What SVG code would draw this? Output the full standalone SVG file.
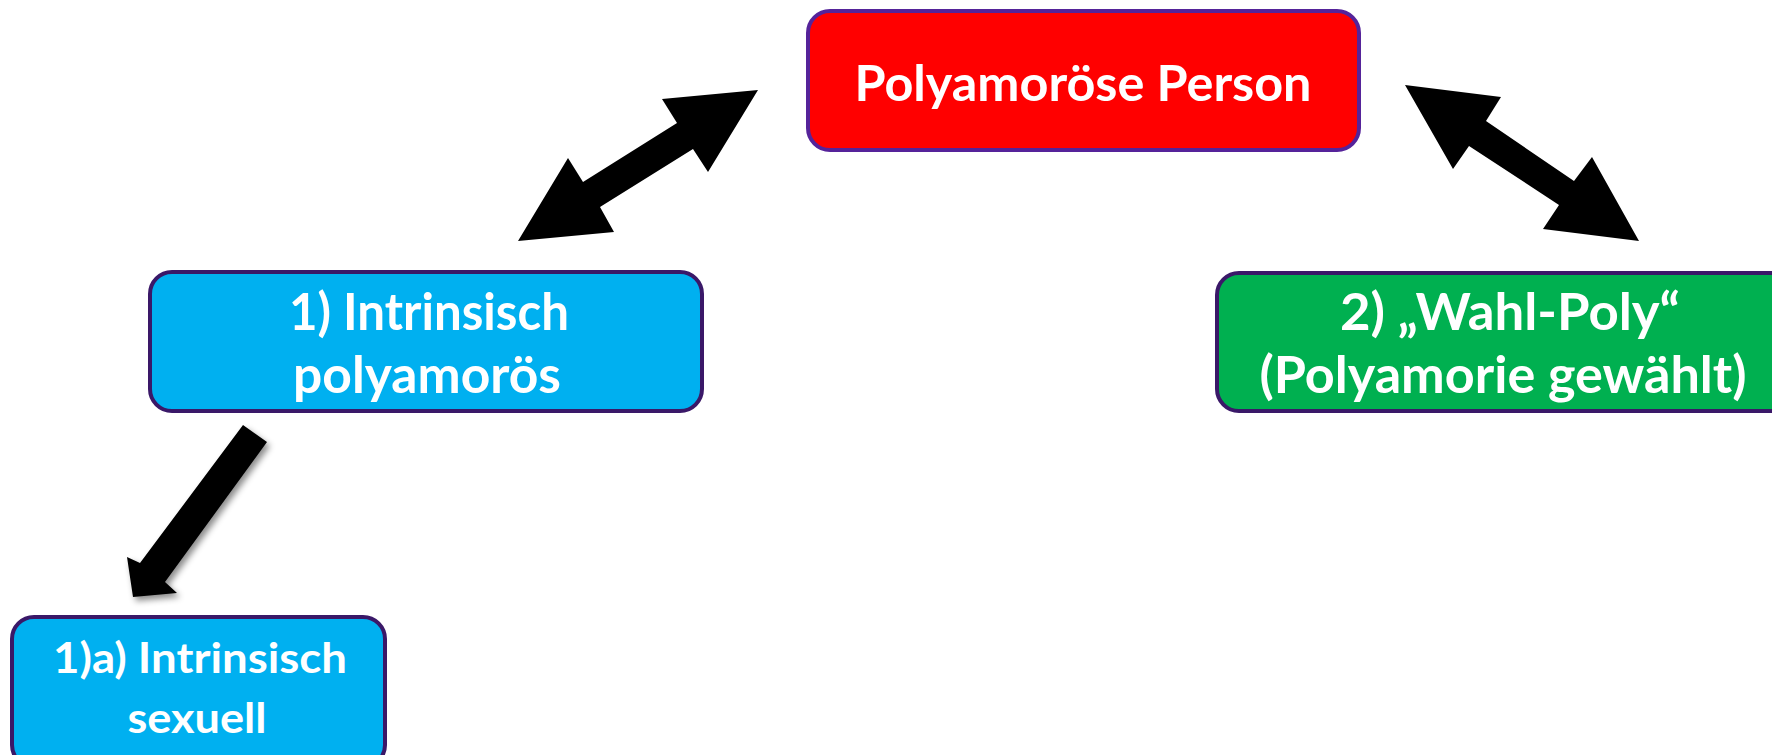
<svg xmlns="http://www.w3.org/2000/svg" width="1772" height="755" viewBox="0 0 1772 755">
  <style>
    .box { stroke-width: 4; }
    .top { fill: #ff0000; stroke: #55239a; }
    .blue { fill: #00b0f0; stroke: #3a1868; }
    .green { fill: #00b050; stroke: #3a1868; }
    .label { font-family: "Lato", "Liberation Sans", sans-serif; font-weight: 700; fill: #ffffff; text-anchor: middle; }
    .arrow { fill: #000000; }
  </style>
  <defs>
    <filter id="shadow" x="-30%" y="-30%" width="160%" height="160%">
      <feDropShadow dx="3" dy="4" stdDeviation="3" flood-color="#000" flood-opacity="0.45"/>
    </filter>
  </defs>

  <g id="connectors">
    <!-- double arrow: top node ↔ intrinsic -->
    <polygon class="arrow" points="758,90 662,99 677,123 583,182 568,158 518,241 614,232 600,207 693,149 708,172"/>
    <!-- double arrow: top node ↔ chosen -->
    <polygon class="arrow" points="1405,85 1501,97 1486,121 1574,181 1592,157 1639,241 1543,229 1559,205 1469,146 1453,169"/>
    <!-- single arrow: intrinsic → sexual -->
    <polygon class="arrow" filter="url(#shadow)" points="243,425 267,442 165,582 177,593 133,597 127,557 140,563"/>
  </g>

  <g id="node-person">
    <rect class="box top" x="808" y="11" width="551" height="139" rx="22"/>
    <text class="label" x="1083" y="101" font-size="49" textLength="457" lengthAdjust="spacingAndGlyphs">Polyamoröse Person</text>
  </g>

  <g id="node-intrinsic">
    <rect class="box blue" x="150" y="272" width="552" height="139" rx="22"/>
    <text class="label" x="429" y="330" font-size="51" textLength="280" lengthAdjust="spacingAndGlyphs">1) Intrinsisch</text>
    <text class="label" x="427" y="393" font-size="51" textLength="268" lengthAdjust="spacingAndGlyphs">polyamorös</text>
  </g>

  <g id="node-chosen">
    <rect class="box green" x="1217" y="273" width="580" height="138" rx="22"/>
    <text class="label" x="1510" y="330" font-size="51" textLength="340" lengthAdjust="spacingAndGlyphs">2) „Wahl-Poly“</text>
    <text class="label" x="1503" y="393" font-size="51" textLength="487" lengthAdjust="spacingAndGlyphs">(Polyamorie gewählt)</text>
  </g>

  <g id="node-sexual">
    <rect class="box blue" x="12" y="617" width="373" height="150" rx="22"/>
    <text class="label" x="200" y="673" font-size="42" textLength="294" lengthAdjust="spacingAndGlyphs">1)a) Intrinsisch</text>
    <text class="label" x="197" y="733" font-size="42" textLength="139" lengthAdjust="spacingAndGlyphs">sexuell</text>
  </g>
</svg>
